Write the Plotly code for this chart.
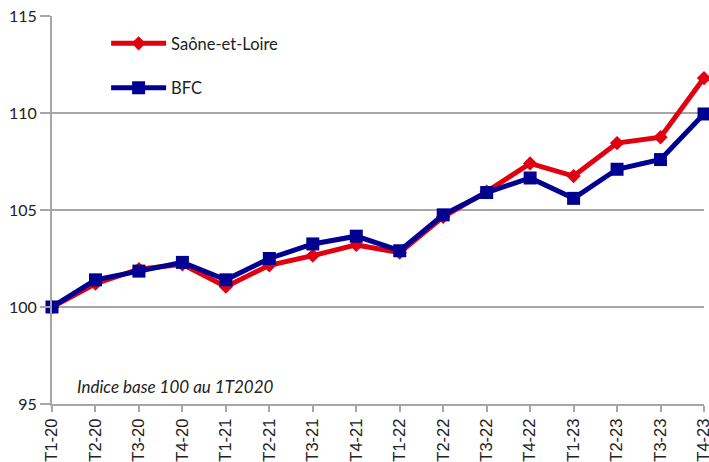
import plotly.graph_objects as go

categories = ["T1-20", "T2-20", "T3-20", "T4-20", "T1-21", "T2-21", "T3-21", "T4-21",
              "T1-22", "T2-22", "T3-22", "T4-22", "T1-23", "T2-23", "T3-23", "T4-23"]
saone_et_loire = [100.0, 101.2, 101.95, 102.2, 101.05, 102.15, 102.65, 103.2,
                  102.8, 104.65, 105.95, 107.4, 106.75, 108.45, 108.75, 111.8]
bfc = [100.0, 101.4, 101.85, 102.3, 101.4, 102.5, 103.25, 103.65,
       102.9, 104.75, 105.9, 106.65, 105.6, 107.1, 107.6, 109.95]

grey = "#a6a6a6"
fig = go.Figure()
fig.add_trace(go.Scatter(
    x=categories, y=saone_et_loire, name="Saône-et-Loire", mode="lines+markers",
    line=dict(color="#e1000f", width=5), marker=dict(symbol="diamond", size=11, color="#e1000f"),
    cliponaxis=False, legendgroup="a"))
fig.add_trace(go.Scatter(
    x=categories, y=bfc, name="BFC", mode="lines+markers",
    line=dict(color="#000091", width=5), marker=dict(symbol="square", size=13, color="#000091"),
    cliponaxis=False, legendgroup="b"))

fig.update_layout(
    width=709, height=462,
    margin=dict(l=52, r=5, t=16, b=58, autoexpand=False),
    paper_bgcolor="white", plot_bgcolor="white",
    font=dict(family="Lato, Open Sans, sans-serif", color="#222222"),
    showlegend=True,
    legend=dict(x=0.083, y=0.974, xanchor="left", yanchor="top", font=dict(size=16.5, family="Lato"),
                bgcolor="rgba(0,0,0,0)", tracegroupgap=20, itemwidth=55),
    xaxis=dict(type="category", range=[0, 15], showgrid=False, showline=True, linecolor=grey, linewidth=2,
               ticks="outside", ticklen=6, tickcolor=grey, tickwidth=2, tickangle=-90, automargin=False,
               tickfont=dict(size=16.5, family="Liberation Sans, Arial", color="#222222")),
    yaxis=dict(range=[95, 115], dtick=5, showgrid=True, gridcolor=grey, gridwidth=2, automargin=False,
               showline=True, linecolor=grey, linewidth=2, ticks="outside", ticklen=10,
               tickcolor=grey, tickwidth=2, zeroline=False,
               tickfont=dict(size=16, family="Lato", color="#222222")),
    annotations=[dict(text="<i>Indice base 100 au 1T2020</i>", x=0.035, y=95.9, xref="paper", yref="y",
                      xanchor="left", yanchor="middle", showarrow=False,
                      font=dict(size=17, family="Lato", color="#222222"))],
)
fig.write_html("out.html", config={"displayModeBar": False},
               post_script="document.body.style.margin='0';document.body.style.overflow='hidden';")
